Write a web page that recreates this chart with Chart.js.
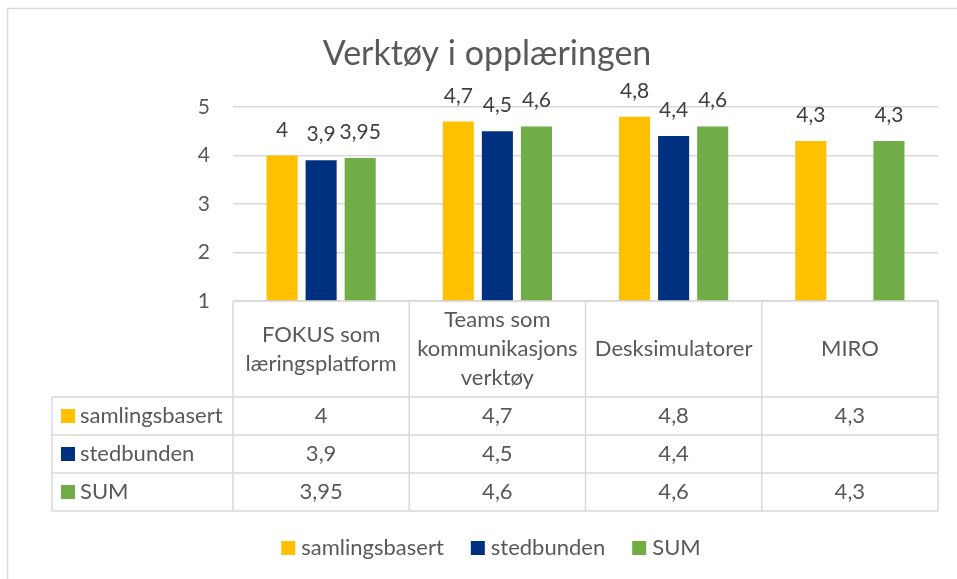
<!DOCTYPE html>
<html>
<head>
<meta charset="utf-8">
<script src="https://cdn.jsdelivr.net/npm/chart.js@4.4.1/dist/chart.umd.min.js"></script>
<style>
html, body { margin: 0; padding: 0; background: #fff; }
#wrap { width: 957px; height: 579px; }
</style>
</head>
<body>
<div id="wrap"><canvas id="toolsChart" width="957" height="579"></canvas></div>
<script>
// data
var titleText = 'Verktøy i opplæringen';
var categories = [['FOKUS som', 'læringsplatform'], ['Teams som', 'kommunikasjons', 'verktøy'], ['Desksimulatorer'], ['MIRO']];
var seriesNames = ['samlingsbasert', 'stedbunden', 'SUM'];
var samlingsbasert = [4, 4.7, 4.8, 4.3];
var stedbunden = [3.9, 4.5, 4.4, null];
var sumValues = [3.95, 4.6, 4.6, 4.3];
var yTicks = [1, 2, 3, 4, 5];

var seriesColors = ['#FFC000', '#003180', '#70AD47'];
var FONT = 'Lato, "Open Sans", sans-serif';
var TEXT = '#595959';
var LINE = '#D9D9D9';

function fmt(v) {
    return v === null || v === undefined ? '' : String(v).replace('.', ',');
}

// border, title, value labels, data table and legend
var excelExtras = {
    id: 'excelExtras',
    beforeDraw: function(chart) {
        var ctx = chart.ctx;
        ctx.save();
        ctx.strokeStyle = LINE;
        ctx.lineWidth = 1.5;
        ctx.strokeRect(7.5, 8.5, 990, 620);
        ctx.fillStyle = TEXT;
        ctx.font = '34px ' + FONT;
        ctx.textAlign = 'center';
        ctx.textBaseline = 'alphabetic';
        ctx.fillText(titleText, 487, 65);
        ctx.restore();
    },
    afterDatasetsDraw: function(chart) {
        var ctx = chart.ctx;
        var xs = chart.scales.x;
        var area = chart.chartArea;
        ctx.save();

        // value labels above the bars
        ctx.font = '21px ' + FONT;
        ctx.fillStyle = '#404040';
        ctx.textAlign = 'center';
        ctx.textBaseline = 'alphabetic';
        chart.data.datasets.forEach(function(ds, i) {
            var meta = chart.getDatasetMeta(i);
            meta.data.forEach(function(bar, j) {
                if (ds.data[j] === null) return;
                ctx.fillText(fmt(ds.data[j]), bar.x, bar.y - 19);
            });
        });

        // data table
        var colW = xs.width / categories.length;
        var top = area.bottom;
        var headH = 96, rowH = 38, keyLeft = 52;
        var headBottom = top + headH;
        var tableBottom = headBottom + rowH * seriesNames.length;
        ctx.strokeStyle = LINE;
        ctx.lineWidth = 1.5;
        ctx.beginPath();
        ctx.moveTo(xs.left, top); ctx.lineTo(xs.right, top);
        for (var r = 0; r <= seriesNames.length; r++) {
            var yy = headBottom + r * rowH;
            ctx.moveTo(keyLeft, yy); ctx.lineTo(xs.right, yy);
        }
        ctx.moveTo(keyLeft, headBottom); ctx.lineTo(keyLeft, tableBottom);
        for (var c = 0; c <= categories.length; c++) {
            var xx = xs.left + c * colW;
            ctx.moveTo(xx, top); ctx.lineTo(xx, tableBottom);
        }
        ctx.stroke();

        ctx.fillStyle = TEXT;
        ctx.font = '22px ' + FONT;
        ctx.textBaseline = 'middle';
        var lineH = 29;
        categories.forEach(function(lines, j) {
            var cx = xs.getPixelForValue(j);
            var y0 = top + headH / 2 - (lines.length - 1) * lineH / 2;
            lines.forEach(function(t, k) {
                ctx.textAlign = 'center';
                ctx.fillText(t, cx, y0 + k * lineH);
            });
        });
        chart.data.datasets.forEach(function(ds, i) {
            var cy = headBottom + rowH * i + rowH / 2;
            ctx.fillStyle = seriesColors[i];
            ctx.fillRect(61, cy - 7, 14, 14);
            ctx.fillStyle = TEXT;
            ctx.textAlign = 'left';
            ctx.fillText(ds.label, 80, cy);
            ctx.textAlign = 'center';
            ds.data.forEach(function(v, j) {
                ctx.fillText(fmt(v), xs.getPixelForValue(j), cy);
            });
        });

        // legend
        var gap = 27, box = 14, pad = 6;
        var widths = seriesNames.map(function(n) { return ctx.measureText(n).width; });
        var total = 0;
        widths.forEach(function(w, i) { total += box + pad + w + (i ? gap : 0); });
        var lx = 491 - total / 2, ly = 548;
        seriesNames.forEach(function(n, i) {
            ctx.fillStyle = seriesColors[i];
            ctx.fillRect(lx, ly - 7, box, box);
            ctx.fillStyle = TEXT;
            ctx.textAlign = 'left';
            ctx.fillText(n, lx + box + pad, ly);
            lx += box + pad + widths[i] + gap;
        });
        ctx.restore();
    }
};

var ctx = document.getElementById('toolsChart').getContext('2d');
var toolsChart = new Chart(ctx, {
    type: 'bar',
    data: {
        labels: categories,
        datasets: [
            { label: seriesNames[0], data: samlingsbasert, backgroundColor: seriesColors[0] },
            { label: seriesNames[1], data: stedbunden, backgroundColor: seriesColors[1] },
            { label: seriesNames[2], data: sumValues, backgroundColor: seriesColors[2] }
        ]
    },
    options: {
        responsive: false,
        animation: false,
        devicePixelRatio: 1,
        events: [],
        categoryPercentage: 0.665,
        barPercentage: 0.795,
        layout: { padding: { left: 193, right: 19, top: 107, bottom: 278 } },
        scales: {
            x: { display: false },
            y: {
                min: yTicks[0],
                max: yTicks[yTicks.length - 1],
                afterFit: function(scale) { scale.width = 40; },
                afterBuildTicks: function(scale) {
                    scale.ticks = yTicks.map(function(v) { return { value: v }; });
                },
                border: { display: false },
                grid: { color: LINE, lineWidth: 1.5, drawTicks: false },
                ticks: { padding: 23, color: TEXT, font: { family: FONT, size: 21 } }
            }
        },
        plugins: {
            legend: { display: false },
            title: { display: false },
            tooltip: { enabled: false }
        }
    },
    plugins: [excelExtras]
});
</script>
</body>
</html>
